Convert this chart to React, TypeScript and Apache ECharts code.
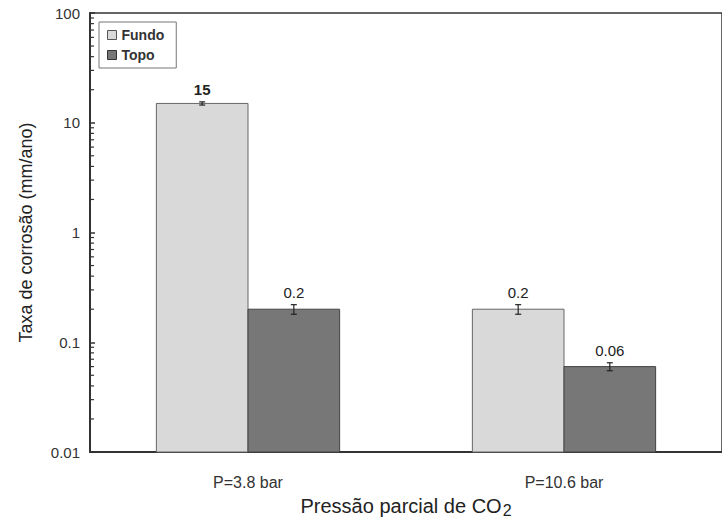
import React, { useEffect, useRef } from "react";
import * as echarts from "echarts";

const categories = ["P=3.8 bar", "P=10.6 bar"];
const fundo = [15, 0.2];
const topo = [0.2, 0.06];
const fundoErr = [0.5, 0.02];
const topoErr = [0.02, 0.005];
const fundoLabels = ["15", "0.2"];
const topoLabels = ["0.2", "0.06"];
const yTicks = [0.01, 0.1, 1, 10, 100];
const minorMultipliers = [2, 3, 4, 5, 6, 7, 8, 9];

const BAR_FRAC = 0.29;
const FONT = "Liberation Sans, Arial, sans-serif";
const Y_MIN = yTicks[0];

export default function App() {
  const ref = useRef<HTMLDivElement>(null);
  useEffect(() => {
    if (!ref.current) return;
    const chart = echarts.init(ref.current, null, { renderer: "svg" });

    const minorData: number[] = [];
    for (let d = 0; d < yTicks.length - 1; d++) {
      minorMultipliers.forEach((m) => minorData.push(yTicks[d] * m));
    }

    const makeBarSeries = (
      name: string,
      values: number[],
      errs: number[],
      labels: string[],
      side: number,
      fill: string,
      stroke: string
    ) => ({
      name,
      type: "custom",
      z: 5,
      itemStyle: { color: fill, borderColor: stroke },
      data: values.map((v, i) => [i, v, errs[i]]),
      renderItem: (params: any, api: any) => {
        const i = api.value(0);
        const v = api.value(1);
        const e = api.value(2);
        const band = api.size([1, 0])[0];
        const w = band * BAR_FRAC;
        const top = api.coord([i, v]);
        const base = api.coord([i, Y_MIN]);
        const cx = top[0] + (side * w) / 2;
        const hi = api.coord([i, v + e]);
        const lo = api.coord([i, v - e]);
        const es = { stroke: "#222", lineWidth: 1.2 };
        const bold = name === "Fundo" && i === 0;
        return {
          type: "group",
          children: [
            {
              type: "rect",
              shape: { x: cx - w / 2, y: top[1], width: w, height: base[1] - top[1] },
              style: { fill, stroke, lineWidth: 1 },
            },
            { type: "line", shape: { x1: cx, y1: hi[1], x2: cx, y2: lo[1] }, style: es },
            { type: "line", shape: { x1: cx - 3, y1: hi[1], x2: cx + 3, y2: hi[1] }, style: es },
            { type: "line", shape: { x1: cx - 3, y1: lo[1], x2: cx + 3, y2: lo[1] }, style: es },
            {
              type: "text",
              style: {
                text: labels[i],
                x: cx,
                y: hi[1] - 5,
                align: "center",
                verticalAlign: "bottom",
                fontFamily: FONT,
                fontSize: 15,
                fontWeight: bold ? "bold" : "normal",
                fill: "#222",
              },
            },
          ],
        };
      },
    });

    chart.setOption({
      animation: false,
      textStyle: { fontFamily: FONT },
      grid: {
        left: 90,
        top: 13,
        width: 643,
        height: 446,
        show: true,
        borderColor: "#333",
        borderWidth: 1.5,
        containLabel: false,
      },
      legend: {
        orient: "vertical",
        left: 99,
        top: 22,
        itemWidth: 9,
        itemHeight: 9,
        itemGap: 6,
        padding: [6, 12, 6, 8],
        borderColor: "#777",
        borderWidth: 1,
        backgroundColor: "#fff",
        textStyle: { fontFamily: FONT, fontSize: 14, fontWeight: "bold", color: "#333" },
        data: [
          { name: "Fundo", icon: "rect", itemStyle: { color: "#d9d9d9", borderColor: "#555", borderWidth: 1 } },
          { name: "Topo", icon: "rect", itemStyle: { color: "#777", borderColor: "#333", borderWidth: 1 } },
        ],
      },
      xAxis: {
        type: "category",
        data: categories,
        axisLine: { show: true, lineStyle: { color: "#333", width: 2 } },
        axisTick: { show: false },
        axisLabel: { fontFamily: FONT, fontSize: 16, color: "#333", margin: 22 },
        name: "{a|Pressão parcial de CO}{b|2}",
        nameLocation: "middle",
        nameGap: 41,
        nameTextStyle: {
          rich: {
            a: { fontFamily: FONT, fontSize: 20, color: "#222" },
            b: { fontFamily: FONT, fontSize: 16, color: "#222", padding: [9, 0, 0, 1] },
          },
        },
      },
      yAxis: {
        type: "log",
        logBase: 10,
        min: 0.01,
        max: 100,
        axisLine: { show: true, lineStyle: { color: "#333", width: 2 } },
        axisTick: { show: true, inside: true, length: 5, lineStyle: { color: "#333", width: 1.5 } },
        splitLine: { show: false },
        axisLabel: {
          fontFamily: FONT,
          fontSize: 15,
          color: "#333",
          margin: 10,
          formatter: (v: number) => String(parseFloat(v.toPrecision(3))),
        },
        name: "Taxa de corrosão (mm/ano)",
        nameLocation: "middle",
        nameGap: 55,
        nameTextStyle: { fontFamily: FONT, fontSize: 18, color: "#222" },
      },
      series: [
        makeBarSeries("Fundo", fundo, fundoErr, fundoLabels, -1, "#d9d9d9", "#666"),
        makeBarSeries("Topo", topo, topoErr, topoLabels, 1, "#777", "#444"),
        {
          type: "custom",
          name: "minor",
          silent: true,
          z: 10,
          data: minorData.map((v) => [0, v]),
          renderItem: (params: any, api: any) => {
            const v = api.value(1);
            const p = api.coord([0, v]);
            const x0 = params.coordSys.x;
            return {
              type: "line",
              shape: { x1: x0, y1: p[1], x2: x0 + 4, y2: p[1] },
              style: { stroke: "#333", lineWidth: 1.2 },
            };
          },
        },
      ],
    });
    return () => chart.dispose();
  }, []);
  return <div ref={ref} style={{ width: 722, height: 523, position: "absolute", left: 0, top: 0 }} />;
}
